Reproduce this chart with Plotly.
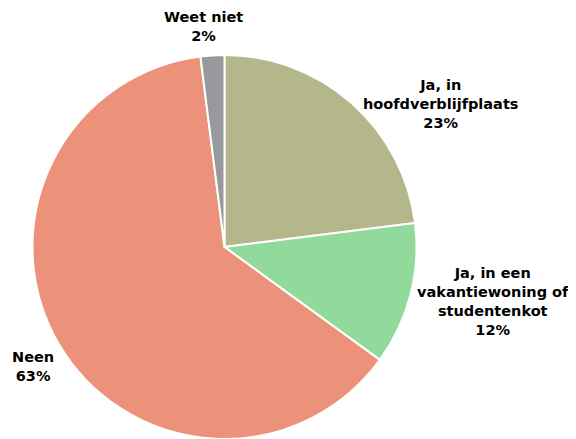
import plotly.graph_objects as go

# page has an 8px body margin; figure sized to fit the 576x439 window
OFF = 8
W, H = 576 - OFF, 439 - OFF

labels = ["Ja, in hoofdverblijfplaats", "Ja, in een vakantiewoning of studentenkot", "Neen", "Weet niet"]
display_labels = ["Ja, in<br>hoofdverblijfplaats", "Ja, in een<br>vakantiewoning of<br>studentenkot", "Neen", "Weet niet"]
values = [23, 12, 63, 2]
colors = ["#b3b78a", "#92d99c", "#ec927a", "#97999c"]

# label block centres (page pixels) - layout only
label_pos = [(440, 104), (493, 301), (33, 366), (203, 27)]


def px_x(p):
    return (p - OFF) / W


def px_y(p):
    return 1 - (p - OFF) / H


fig = go.Figure(go.Pie(
    labels=labels,
    values=values,
    textinfo="none",
    sort=False,
    direction="clockwise",
    rotation=0,
    marker=dict(colors=colors, line=dict(color="white", width=2)),
    showlegend=False,
    hoverinfo="label+percent",
    domain=dict(x=[px_x(31), px_x(418)], y=[0, px_y(55)]),
))

for d, v, (px, py) in zip(display_labels, values, label_pos):
    fig.add_annotation(
        x=px_x(px), y=px_y(py), xref="paper", yref="paper",
        text=f"{d}<br>{v}%", showarrow=False,
        xanchor="center", yanchor="middle", align="center",
        font=dict(family="DejaVu Sans", size=14.5, color="black", weight="bold"),
    )

fig.update_layout(
    width=W, height=H,
    margin=dict(l=0, r=0, t=0, b=0),
    paper_bgcolor="white",
    plot_bgcolor="white",
    font=dict(family="DejaVu Sans"),
)

fig.write_html("out.html")
